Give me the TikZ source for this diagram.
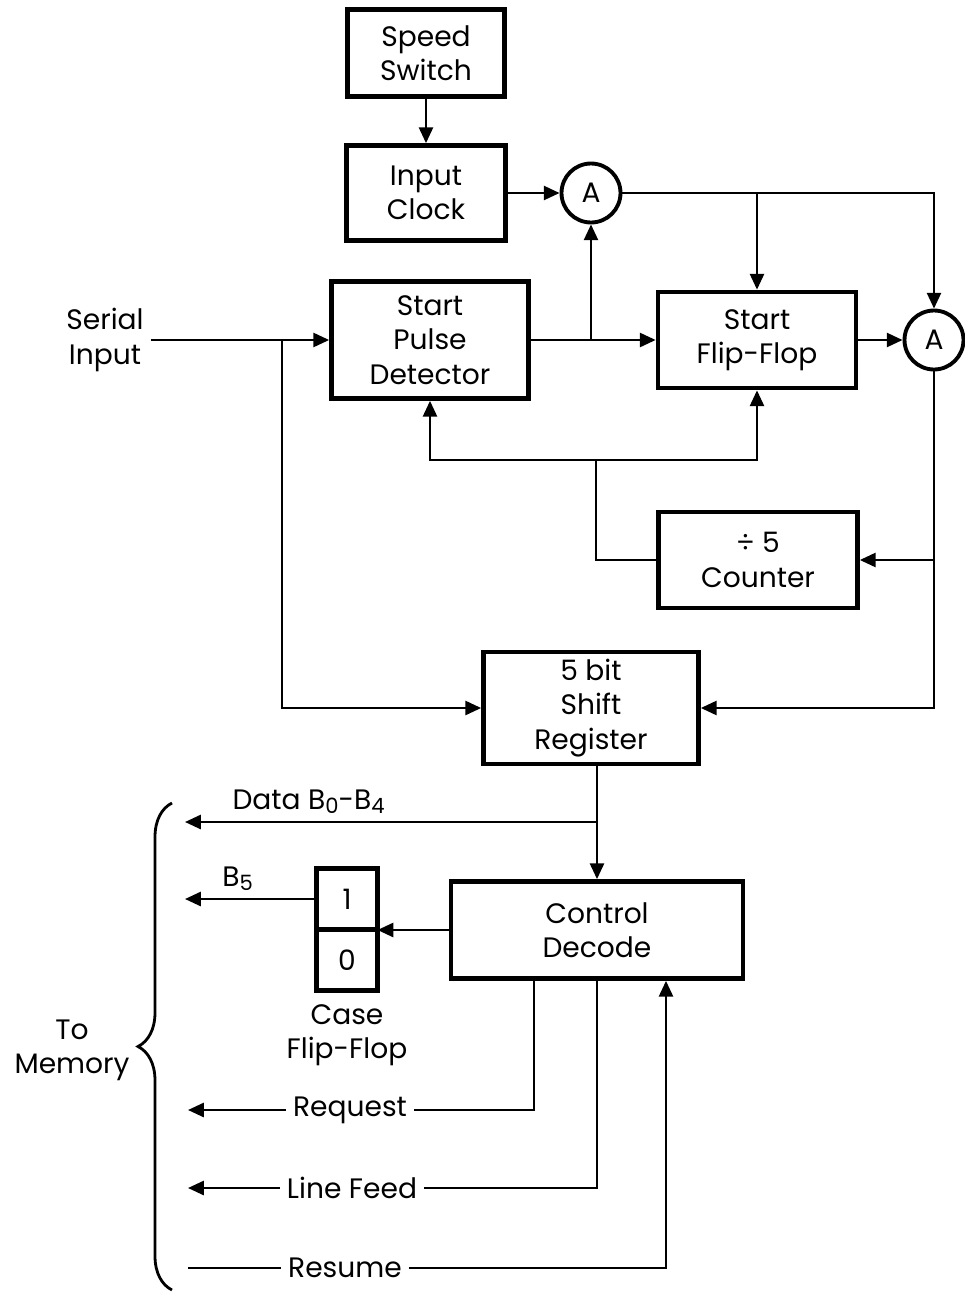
\documentclass[tikz,border=0pt]{standalone}
\usepackage{fontspec}
\setmainfont{Poppins}
\usetikzlibrary{arrows.meta,decorations.pathreplacing,positioning}
\newcommand{\lowidx}[1]{\raisebox{-0.12em}{\fontsize{12}{12}\selectfont #1}}

\begin{document}
\begin{tikzpicture}[x=0.02cm, y=-0.02cm, >={Triangle[length=9pt,width=8pt]}, line width=1.4pt, font=\fontsize{16}{19.5}\selectfont]
            \tikzstyle{block} = [draw, line width=2.7pt, align=center, inner sep=0pt]
            \tikzstyle{gate} = [circle, draw, line width=2.2pt, minimum size=1.18cm, inner sep=0pt]
            \tikzstyle{flag} = [draw, line width=2.7pt, minimum size=1.22cm, inner sep=0pt, outer sep=0pt]

            \useasboundingbox (0,0) rectangle (964,1295);

            % Nodes
            \node[block, minimum width=3.14cm, minimum height=1.74cm] (speed) at (426,53) {Speed\\Switch};
            \node[block, minimum width=3.18cm, minimum height=1.9cm] (clock) at (426,193) {Input\\Clock};
            \node[gate] (A1) at (591,193) {A};
            \node[block, minimum width=3.94cm, minimum height=2.34cm] (spd) at (430,340) {Start\\Pulse\\Detector};
            \node[block, minimum width=3.96cm, minimum height=1.92cm] (sff) at (757,340) {Start\\Flip-Flop};
            \node[gate] (A2) at (934,340) {A};
            \node[block, minimum width=3.98cm, minimum height=1.92cm] (counter) at (758,560) {÷ 5\\Counter};
            \node[block, minimum width=4.3cm, minimum height=2.24cm] (shift) at (591,708) {5 bit\\Shift\\Register};
            \node[block, minimum width=5.84cm, minimum height=1.94cm] (decode) at (597,930) {Control\\Decode};
            \node[flag] (case1) at (347,899) {1};
            \node[flag] (case0) [below=0pt of case1] {0};
            \node[align=center] (caselbl) at (347,1035) {Case\\Flip-Flop};
            \node[align=center] (serial) at (105,340) {Serial\\Input};
            \node[align=center] (memory) at (72,1050) {To\\Memory};
            \node (req) at (350,1110) {Request};
            \node (lf) at (352,1188) {Line Feed};
            \node (res) at (345,1268) {Resume};

            \coordinate (tap) at (282,340);
            \coordinate (fb) at (596,460);
            \coordinate (dataout) at (185,822);
            \coordinate (b5out) at (185,902);
            \coordinate (reqtap) at (534,1110);
            \coordinate (reqout) at (188,1110);
            \coordinate (lfout) at (188,1188);
            \coordinate (resin) at (188,1268);
            \coordinate (restap) at (666,1268);

            % Edges
            \draw[->] (speed) -- (clock);
            \draw[->] (clock) -- (A1);
            \draw[->] (A1.east) -| (A2.north);
            \draw[->] (sff.north |- A1.east) -- (sff.north);
            \draw[->] (spd) -- (sff);
            \draw[->] (A1 |- spd.east) -- (A1.south);
            \draw[->] (serial.east) -- (spd.west);
            \draw[->] (tap) |- (shift.west);
            \draw[->] (sff) -- (A2);
            \draw[->] (A2.south) |- (shift.east);
            \draw[->] (A2.south |- counter.east) -- (counter.east);
            \draw (counter.west) -| (fb);
            \draw[->] (fb) -| (spd.south);
            \draw[->] (fb) -| (sff.south);
            \draw[->] (decode.north |- shift.south) -- (decode.north);
            \draw[->] (decode.north |- dataout) -- (dataout) node[pos=0.7, above=1pt] {Data B\lowidx{0}-B\lowidx{4}};
            \draw[->] (decode.west) -- (decode.west -| case1.east);
            \draw[->] (case1.west) -- (case1.west -| b5out) node[pos=0.6, above=1pt] {B\lowidx{5}};
            \draw (decode.south -| reqtap) |- (req.east);
            \draw[->] (req.west) -- (reqout);
            \draw (decode.south) |- (lf.east);
            \draw[->] (lf.west) -- (lfout);
            \draw (resin) -- (res.west);
            \draw[->] (res.east) -- (restap) -- (decode.south -| restap);

            % Brace
            \draw[line width=1.6pt, decorate, decoration={brace, amplitude=0.68cm}] (172,1290) -- (172,803);

        \end{tikzpicture}
\end{document}
